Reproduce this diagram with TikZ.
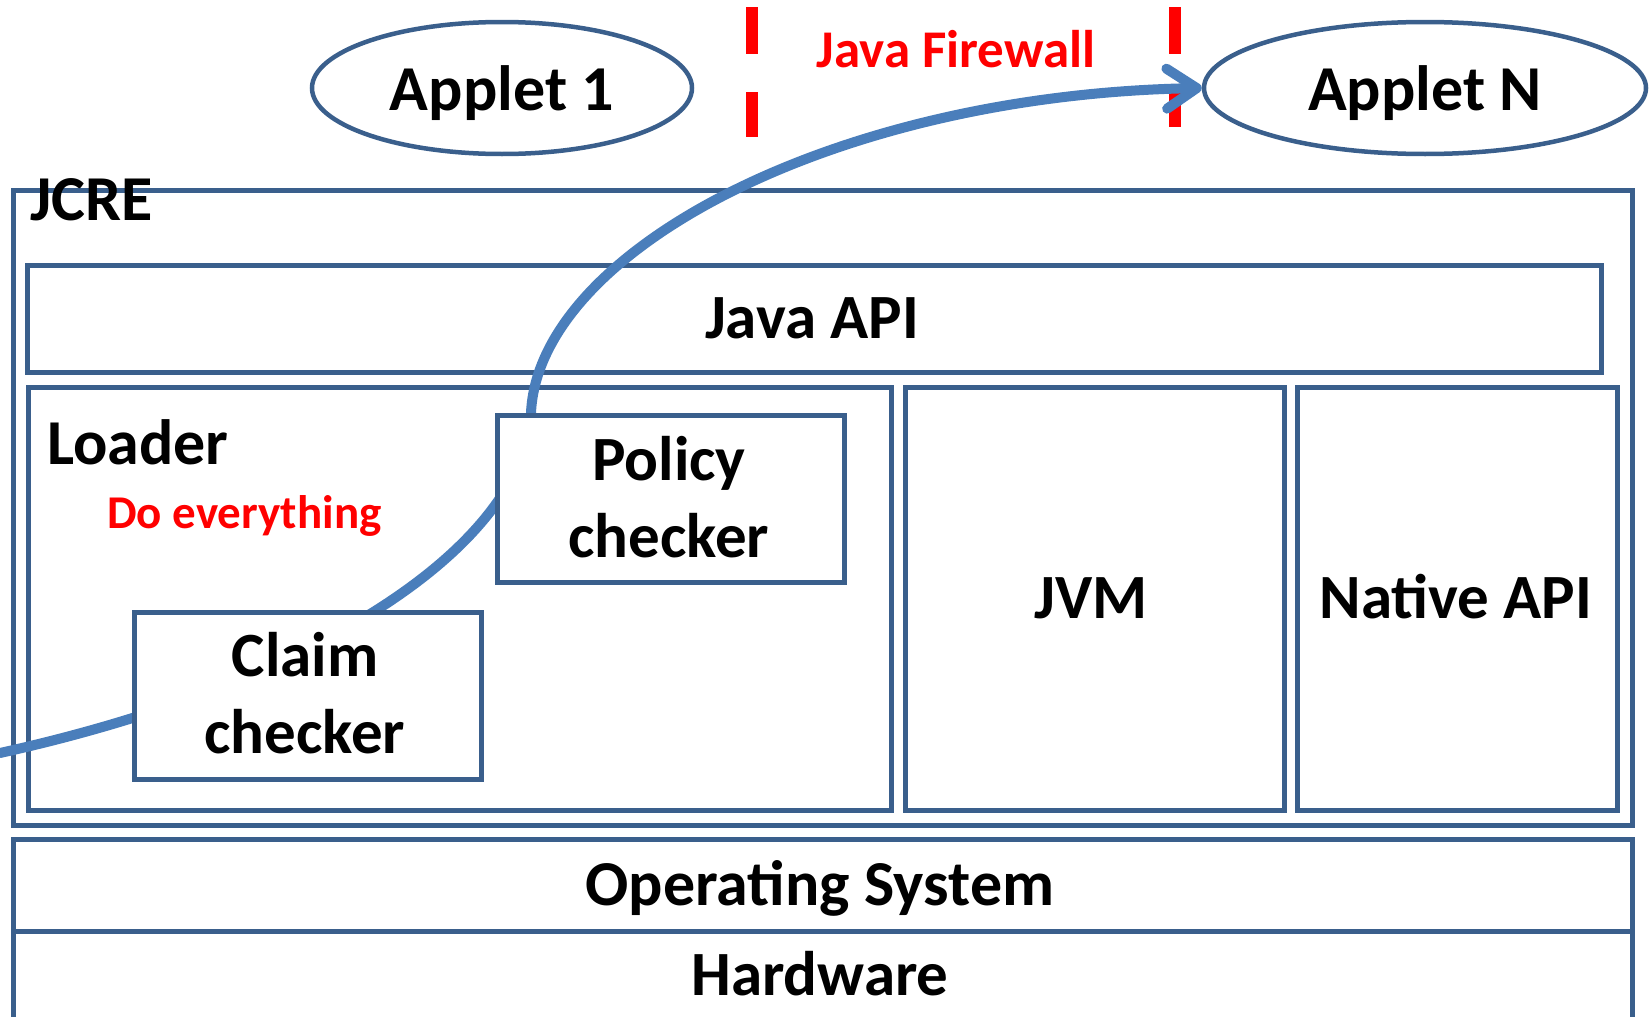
\documentclass[tikz,border=0pt]{standalone}
\usepackage{fontspec}
\setmainfont{Carlito}
\usetikzlibrary{shapes.geometric,arrows.meta}
\definecolor{boxblue}{RGB}{58,95,140}
\definecolor{flowblue}{RGB}{74,126,187}
\definecolor{fwred}{RGB}{255,0,0}
\tikzset{
  box/.style={draw=boxblue, line width=4.5pt, fill=white, inner sep=0pt, anchor=north west},
  oval/.style={ellipse, draw=boxblue, line width=4.5pt, fill=white, inner sep=0pt, minimum height=132pt},
  lbl/.style={font=\bfseries\fontsize{63}{77}\selectfont, text=black, inner sep=0pt, anchor=base},
  redlbl/.style={font=\bfseries\fontsize{#1}{#1}\selectfont, text=fwred, inner sep=0pt, anchor=base},
  fwdash/.style={draw=fwred, line width=12pt},
  flow/.style={draw=flowblue, line width=10pt, line cap=round,
    -{Straight Barb[length=30pt, width=40pt, round]}}
}
\begin{document}
\begin{tikzpicture}[x=1pt,y=-1pt]
\useasboundingbox (0,0) rectangle (1652,1017);
% outer layers
\node[box, minimum width=1619pt, minimum height=635pt] (jcre) at (11,188) {};
\node[box, minimum width=1574pt, minimum height=107pt] (japi) at (25,263) {};
\node[box, minimum width=863pt, minimum height=423pt] (loader) at (26,385) {};
\node[box, minimum width=379pt, minimum height=423pt] (jvm) at (903,385) {};
\node[box, minimum width=320pt, minimum height=423pt] (native) at (1295,385) {};
\node[box, minimum width=1619pt, minimum height=92pt] (os) at (11,837) {};
\node[box, minimum width=1619pt, minimum height=120pt] (hw) at (11,929) {};
% applets
\node[oval, minimum width=380pt] (app1) at (502,88) {};
\node[oval, minimum width=442pt] (appN) at (1425,88) {};
% firewall dashes
\draw[fwdash] (752,7) -- (752,54) (752,92) -- (752,137);
\draw[fwdash] (1175,7) -- (1175,54) (1175,92) -- (1175,127);
% flow curve
\coordinate (cstart) at (0,753);
\coordinate (cmid) at (531,413);
\draw[flow] (cstart) .. controls (330,680) and (525,540) .. (cmid)
  .. controls (538,253) and (830,95) .. (appN.west);
% checkers
\node[box, minimum width=347pt, minimum height=167pt] (policy) at (495,413) {};
\node[box, minimum width=347pt, minimum height=167pt] (claim) at (132,610) {};
% texts
\node[lbl, font=\bfseries\fontsize{64}{77}\selectfont] (t-app1) at (502,110) {Applet 1};
\node[lbl, font=\bfseries\fontsize{64}{77}\selectfont] (t-appN) at (1425,110) {Applet N};
\node[redlbl=53] (t-fw) at (956,67) {Java Firewall};
\node[lbl, anchor=base west, font=\bfseries\fontsize{64}{77}\selectfont] (t-jcre) at (30,220) {JCRE};
\node[lbl] (t-japi) at (812,338) {Java API};
\node[lbl, anchor=base west, font=\bfseries\fontsize{64}{77}\selectfont] (t-loader) at (47,464) {Loader};
\node[redlbl=47, anchor=base west] (t-do) at (107,528) {Do everything};
\node[lbl] (t-pol1) at (669,480) {Policy};
\node[lbl] (t-pol2) at (669,557) {checker};
\node[lbl] (t-cl1) at (305,676) {Claim};
\node[lbl] (t-cl2) at (305,753) {checker};
\node[lbl] (t-jvm) at (1091,618) {JVM};
\node[lbl] (t-nat) at (1456,618) {Native API};
\node[lbl, font=\bfseries\fontsize{64}{77}\selectfont] (t-os) at (820,905) {Operating System};
\node[lbl, font=\bfseries\fontsize{63}{77}\selectfont] (t-hw) at (820,995) {Hardware};
\end{tikzpicture}
\end{document}
